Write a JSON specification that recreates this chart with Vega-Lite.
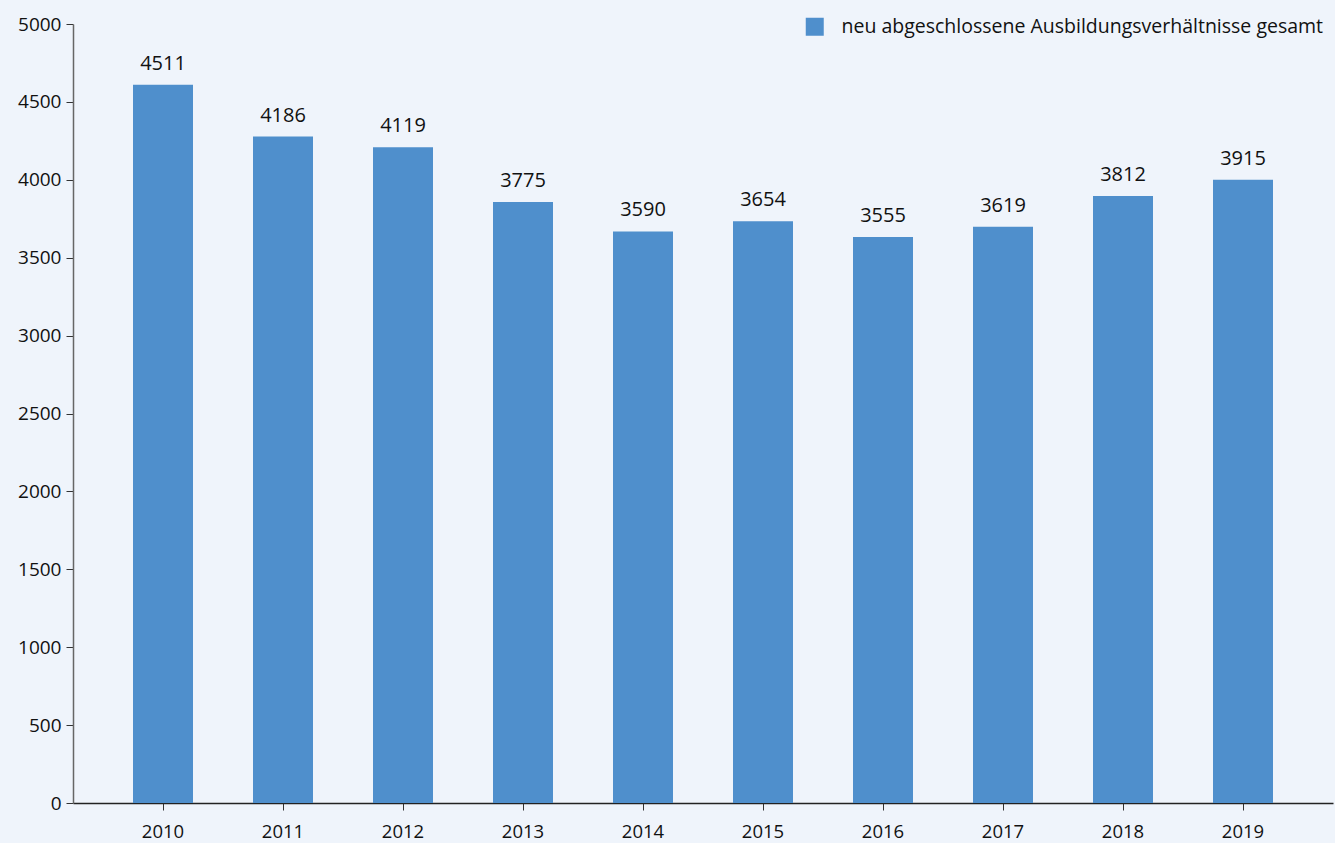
{
  "$schema": "https://vega.github.io/schema/vega-lite/v6.json",
  "width": 1260,
  "height": 779,
  "autosize": {"type": "none"},
  "padding": {"left": 73, "top": 24, "right": 2, "bottom": 40},
  "background": "#eff4fb",
  "config": {"view": {"stroke": null}, "font": "Open Sans"},
  "data": {
    "values": [
      {"Jahr": "2010", "Anzahl": 4511, "Reihe": "neu abgeschlossene Ausbildungsverhältnisse gesamt"},
      {"Jahr": "2011", "Anzahl": 4186, "Reihe": "neu abgeschlossene Ausbildungsverhältnisse gesamt"},
      {"Jahr": "2012", "Anzahl": 4119, "Reihe": "neu abgeschlossene Ausbildungsverhältnisse gesamt"},
      {"Jahr": "2013", "Anzahl": 3775, "Reihe": "neu abgeschlossene Ausbildungsverhältnisse gesamt"},
      {"Jahr": "2014", "Anzahl": 3590, "Reihe": "neu abgeschlossene Ausbildungsverhältnisse gesamt"},
      {"Jahr": "2015", "Anzahl": 3654, "Reihe": "neu abgeschlossene Ausbildungsverhältnisse gesamt"},
      {"Jahr": "2016", "Anzahl": 3555, "Reihe": "neu abgeschlossene Ausbildungsverhältnisse gesamt"},
      {"Jahr": "2017", "Anzahl": 3619, "Reihe": "neu abgeschlossene Ausbildungsverhältnisse gesamt"},
      {"Jahr": "2018", "Anzahl": 3812, "Reihe": "neu abgeschlossene Ausbildungsverhältnisse gesamt"},
      {"Jahr": "2019", "Anzahl": 3915, "Reihe": "neu abgeschlossene Ausbildungsverhältnisse gesamt"}
    ]
  },
  "encoding": {
    "x": {
      "field": "Jahr",
      "type": "ordinal",
      "scale": {"paddingInner": 0.5, "paddingOuter": 0.5},
      "axis": {
        "title": null,
        "labelAngle": 0,
        "labelFontSize": 18.5,
        "labelColor": "#111",
        "labelPadding": 12,
        "domainColor": "#222",
        "domainWidth": 1.5,
        "tickColor": "#333",
        "tickSize": 7,
        "grid": false
      }
    }
  },
  "layer": [
    {
      "mark": {"type": "bar", "color": "#4f8fcc"},
      "encoding": {
        "y": {"field": "Anzahl", "type": "quantitative", "scale": {"domain": [0, 4893]}, "axis": null},
        "color": {
          "field": "Reihe",
          "type": "nominal",
          "scale": {"range": ["#4f8fcc"]},
          "legend": {
            "title": null,
            "orient": "none",
            "legendX": 732,
            "legendY": -7,
            "symbolType": "square",
            "symbolSize": 324,
            "symbolStrokeWidth": 0,
            "symbolOpacity": 1,
            "labelFontSize": 19.5,
            "labelColor": "#111",
            "labelOffset": 17,
            "labelLimit": 600
          }
        }
      }
    },
    {
      "mark": {"type": "text", "baseline": "alphabetic", "dy": -15, "fontSize": 20, "color": "#111"},
      "encoding": {
        "y": {"field": "Anzahl", "type": "quantitative", "scale": {"domain": [0, 4893]}, "axis": null},
        "text": {"field": "Anzahl", "type": "quantitative", "format": "d"}
      }
    },
    {
      "mark": {"type": "rule", "opacity": 0},
      "encoding": {
        "y": {
          "field": "Anzahl",
          "type": "quantitative",
          "scale": {"domain": [0, 5000]},
          "axis": {
            "orient": "left",
            "title": null,
            "values": [0, 500, 1000, 1500, 2000, 2500, 3000, 3500, 4000, 4500, 5000],
            "format": "d",
            "labelFontSize": 19,
            "labelColor": "#111",
            "labelPadding": 5,
            "domainColor": "#666",
            "domainWidth": 1.5,
            "tickColor": "#333",
            "tickSize": 7,
            "grid": false
          }
        }
      }
    }
  ],
  "resolve": {"scale": {"y": "independent"}}
}
